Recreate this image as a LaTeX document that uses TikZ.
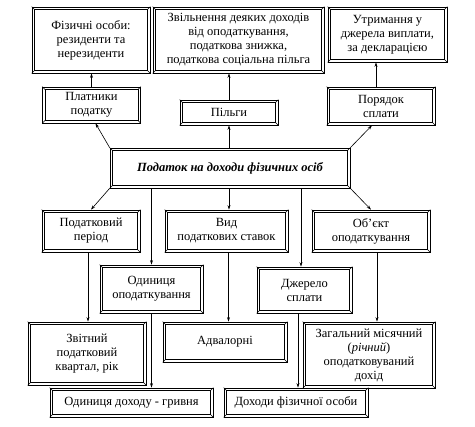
\documentclass[tikz,border=0pt]{standalone}
\usepackage{fontspec}
\setmainfont{Liberation Serif}
\usepackage{tikz}
\usetikzlibrary{arrows.meta, positioning, calc}

\begin{document}
\begin{tikzpicture}[
    x=1pt, y=-1pt,
    ramka/.style={rectangle, draw, line width=0.7pt, inner sep=1pt, align=center, font=\fontsize{12.5}{14}\selectfont},
    strilka/.style={line width=0.6pt, -{Stealth[length=4.5pt, width=3pt]}}
]
\useasboundingbox (0,0) rectangle (475,427);

% верхній ряд
\node (fiz) [ramka, minimum width=118pt, minimum height=66pt] at (91,40) {Фізичні особи:\\резиденти та\\нерезиденти};
\node (zvil) [ramka, minimum width=171pt, minimum height=66pt] at (238.5,40) {Звільнення деяких доходів\\від оподаткування,\\податкова знижка,\\податкова соціальна пільга};
\node (utr) [ramka, minimum width=119pt, minimum height=55pt] at (387.5,34.5) {Утримання у\\джерела виплати,\\за декларацією};

% другий ряд
\node (plat) [ramka, minimum width=98pt, minimum height=36pt] at (91.5,105) {Платники\\податку};
\node (pilg) [ramka, minimum width=98pt, minimum height=25pt] at (229,112.5) {Пільги};
\node (por) [ramka, minimum width=108pt, minimum height=38pt] at (381,106) {Порядок\\сплати};

% центральний вузол
\node (podatok) [ramka, minimum width=240pt, minimum height=40pt, font=\fontsize{12.5}{14}\selectfont\bfseries\itshape] at (230,168) {Податок на доходи фізичних осіб};

% третій ряд
\node (period) [ramka, minimum width=98pt, minimum height=42pt] at (91,231) {Податковий\\період};
\node (vid) [ramka, minimum width=123pt, minimum height=42pt] at (226.5,231) {Вид\\податкових ставок};
\node (obj) [ramka, minimum width=118pt, minimum height=42pt] at (371,231) {Об'єкт\\оподаткування};

% четвертий ряд
\node (odyn) [ramka, minimum width=103pt, minimum height=48pt] at (151.5,289) {Одиниця\\оподаткування};
\node (dzh) [ramka, minimum width=95pt, minimum height=46pt] at (304.5,290) {Джерело\\сплати};

% п'ятий ряд
\node (zvit) [ramka, minimum width=118pt, minimum height=63pt] at (87,353.5) {Звітний\\податковий\\квартал, рік};
\node (adv) [ramka, minimum width=124pt, minimum height=40pt] at (225,342) {Адвалорні};
\node (zag) [ramka, minimum width=132pt, minimum height=66pt] at (369,355) {Загальний місячний\\(\textit{річний})\\оподатковуваний\\дохід};

% нижній ряд
\node (dohod) [ramka, minimum width=163pt, minimum height=29pt] at (131.5,402.5) {Одиниця доходу - гривня};
\node (dohfiz) [ramka, minimum width=144pt, minimum height=29pt] at (296,402.5) {Доходи фізичної особи};

% внутрішня рамка
\foreach \n in {fiz,zvil,utr,plat,pilg,por,podatok,period,vid,obj,odyn,dzh,zvit,adv,zag,dohod,dohfiz}{
  \draw [line width=0.6pt] ($(\n.north west)+(3,3)$) rectangle ($(\n.south east)+(-3,-3)$);
  \draw [line width=0.5pt] (\n.north west) -- ++(3,3) (\n.north east) -- ++(-3,3)
    (\n.south west) -- ++(3,-3) (\n.south east) -- ++(-3,-3);
}

% стрілки вгору
\draw [strilka] (plat.north) -- (plat.north |- fiz.south);
\draw [strilka] (pilg.north) -- (pilg.north |- zvil.south);
\draw [strilka] ($(por.north)+(-5,0)$) -- ($(por.north |- utr.south)+(-5,0)$);
\draw [strilka] (podatok.north west) -- ($(plat.south)+(4,0)$);
\draw [strilka] (podatok.north -| pilg) -- (pilg.south);
\draw [strilka] (podatok.north east) -- ($(por.south)+(-9,0)$);

% стрілки вниз
\draw [strilka] (podatok.south west) -- (period.north);
\draw [strilka] (podatok.south -| odyn) -- (odyn.north);
\draw [strilka] ($(podatok.south -| vid)+(2.5,0)$) -- ($(vid.north)+(2.5,0)$);
\draw [strilka] ($(podatok.south -| dzh)+(-3.5,0)$) -- ($(dzh.north)+(-3.5,0)$);
\draw [strilka] (podatok.south east) -- (obj.north);

\draw [strilka] ($(period.south)+(-3,0)$) -- ($(period.south |- zvit.north)+(-3,0)$);
\draw [strilka] ($(vid.south)+(2,0)$) -- ($(vid.south |- adv.north)+(2,0)$);
\draw [strilka] (odyn.south) -- (odyn.south |- dohod.north);
\draw [strilka] ($(dzh.south)+(-6.5,0)$) -- ($(dzh.south |- dohfiz.north)+(-6.5,0)$);
\draw [strilka] ($(obj.south)+(6,0)$) -- ($(obj.south |- zag.north)+(6,0)$);

\end{tikzpicture}
\end{document}
